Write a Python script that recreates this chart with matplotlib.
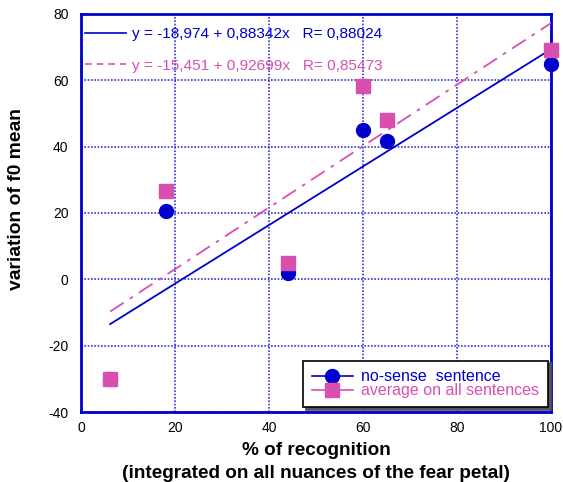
import numpy as np
import matplotlib.pyplot as plt
from matplotlib.lines import Line2D

plt.rcParams['font.family'] = ['Liberation Sans', 'DejaVu Sans']
plt.rcParams['axes.unicode_minus'] = False

# data
recognition = [6.2, 18, 44, 60, 65, 100]
nosense = [-30, 20.7, 2, 45, 41.7, 64.9]
average = [-30, 26.5, 5, 58.4, 47.9, 69]

# fitted lines (intercept, slope) as printed on the chart
fit_nosense = (-18.974, 0.88342)
fit_average = (-15.451, 0.92699)

blue = '#0000CC'
pink = '#D94FB0'

fig = plt.figure(figsize=(5.63, 4.82), dpi=100)
ax = fig.add_axes([0.1439, 0.1452, 0.8348, 0.8258])

xs = np.array([min(recognition), max(recognition)])
ax.plot(xs, fit_nosense[0] + fit_nosense[1] * xs, color=blue, lw=1.3, zorder=3)
ax.plot(xs, fit_average[0] + fit_average[1] * xs, color=pink, lw=1.3,
        dashes=(9, 4, 2, 4), zorder=3)

ax.plot(recognition, nosense, 'o', color=blue, ms=10, zorder=4, clip_on=False)
ax.plot(recognition, average, 's', color=pink, ms=10, zorder=5, clip_on=False)

ax.set_xlim(0, 100)
ax.set_ylim(-40, 80)
ax.set_xticks(range(0, 101, 20))
ax.set_yticks(range(-40, 81, 20))
ax.tick_params(length=0, labelsize=10)
ax.tick_params(axis='x', pad=6.5)
ax.tick_params(axis='y', pad=9)
ax.grid(True, color='#3333DD', ls=(0, (1, 1)), lw=1.2)
ax.set_axisbelow(True)
for s in ax.spines.values():
    s.set_color(blue)
    s.set_linewidth(2)

ax.set_xlabel('% of recognition\n(integrated on all nuances of the fear petal)',
              fontsize=13.7, fontweight='bold', linespacing=1.48, va='top')
ax.xaxis.set_label_coords(0.5, -0.075)
ax.set_ylabel('variation of f0 mean', fontsize=13.9, fontweight='bold', va='center')
ax.yaxis.set_label_coords(-0.1366, 0.535)

# equation labels
h1 = Line2D([], [], color=blue, lw=1.2)
h2 = Line2D([], [], color=pink, lw=1.2, dashes=(4, 3))
eq = ax.legend([h1, h2],
               ['y = -18,974 + 0,88342x   R= 0,88024',
                'y = -15,451 + 0,92699x   R= 0,85473'],
               loc='upper left', bbox_to_anchor=(-0.005, 0.982), frameon=False,
               fontsize=11.1, handlelength=2.7, handletextpad=0.33, labelspacing=1.12,
               borderaxespad=0)
for t, c in zip(eq.get_texts(), [blue, pink]):
    t.set_color(c)
ax.add_artist(eq)

m1 = Line2D([], [], color=blue, marker='o', ms=10, lw=1.2)
m2 = Line2D([], [], color=pink, marker='s', ms=10, lw=1.2)
leg = ax.legend([m1, m2], ['no-sense  sentence', 'average on all sentences'],
                loc='lower right', bbox_to_anchor=(0.9936, 0.0126), fontsize=11.5,
                handlelength=2.6, handletextpad=0.5, labelspacing=-0.08,
                fancybox=False, shadow={'color': '#555555', 'alpha': 1},
                edgecolor='black', borderpad=0.55, borderaxespad=0)
leg.get_frame().set_linewidth(1.2)
for t, c in zip(leg.get_texts(), [blue, pink]):
    t.set_color(c)

fig.savefig('out.png', dpi=100)
